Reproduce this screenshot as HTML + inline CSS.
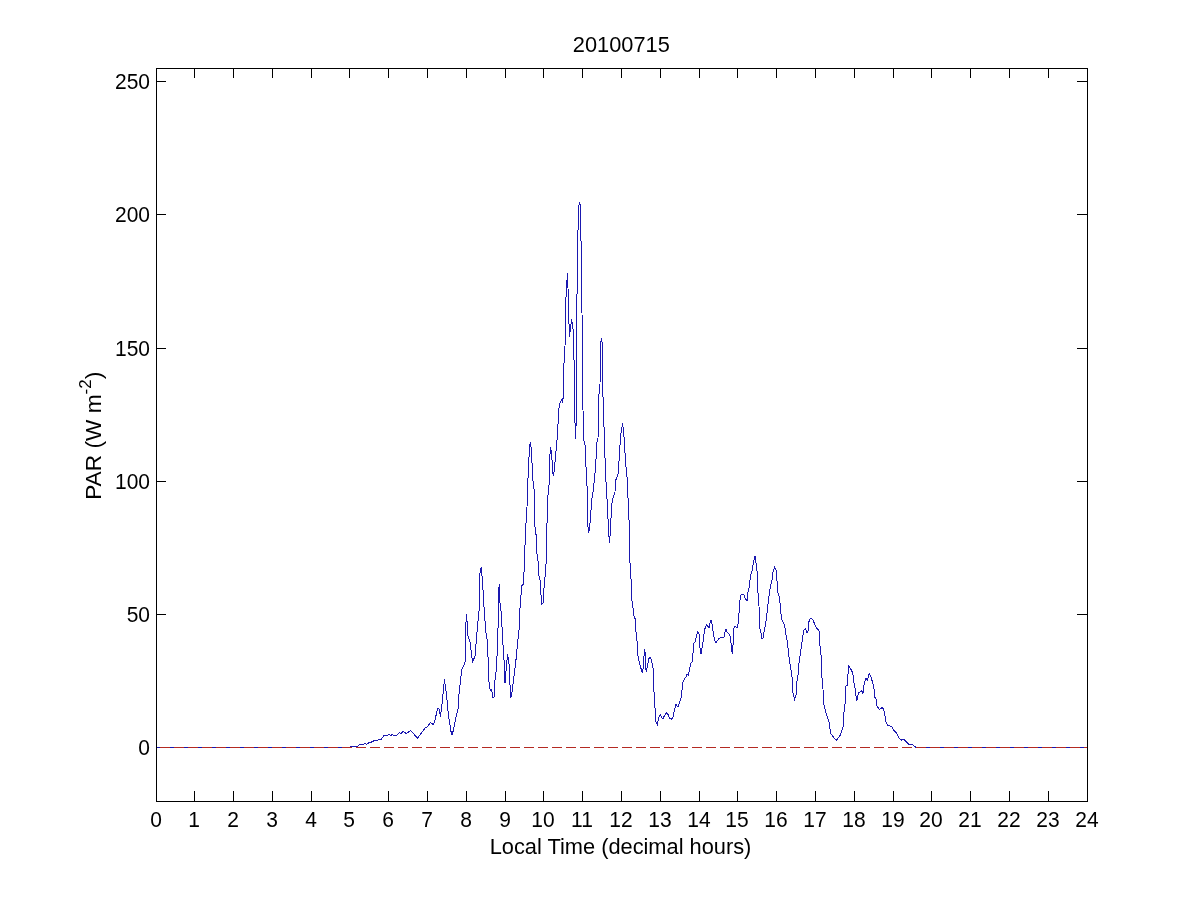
<!DOCTYPE html><html><head><meta charset="utf-8"><style>html,body{margin:0;padding:0;background:#fff;}svg{display:block;will-change:transform;}text{font-family:"Liberation Sans",sans-serif;fill:#000;}</style></head><body>
<svg width="1201" height="900" viewBox="0 0 1201 900">
<rect x="0" y="0" width="1201" height="900" fill="#fff"/>
<g stroke="#000" stroke-width="1" shape-rendering="crispEdges" fill="none"><rect x="156.5" y="68.5" width="931" height="733" fill="none"/><path d="M156.5 802 V791 M156.5 68 V78"/><path d="M194.5 802 V791 M194.5 68 V78"/><path d="M233.5 802 V791 M233.5 68 V78"/><path d="M272.5 802 V791 M272.5 68 V78"/><path d="M311.5 802 V791 M311.5 68 V78"/><path d="M349.5 802 V791 M349.5 68 V78"/><path d="M388.5 802 V791 M388.5 68 V78"/><path d="M427.5 802 V791 M427.5 68 V78"/><path d="M466.5 802 V791 M466.5 68 V78"/><path d="M505.5 802 V791 M505.5 68 V78"/><path d="M543.5 802 V791 M543.5 68 V78"/><path d="M582.5 802 V791 M582.5 68 V78"/><path d="M621.5 802 V791 M621.5 68 V78"/><path d="M660.5 802 V791 M660.5 68 V78"/><path d="M699.5 802 V791 M699.5 68 V78"/><path d="M737.5 802 V791 M737.5 68 V78"/><path d="M776.5 802 V791 M776.5 68 V78"/><path d="M815.5 802 V791 M815.5 68 V78"/><path d="M854.5 802 V791 M854.5 68 V78"/><path d="M893.5 802 V791 M893.5 68 V78"/><path d="M931.5 802 V791 M931.5 68 V78"/><path d="M970.5 802 V791 M970.5 68 V78"/><path d="M1009.5 802 V791 M1009.5 68 V78"/><path d="M1048.5 802 V791 M1048.5 68 V78"/><path d="M1087.5 802 V791 M1087.5 68 V78"/><path d="M156 747.5 H166 M1088 747.5 H1077"/><path d="M156 614.5 H166 M1088 614.5 H1077"/><path d="M156 481.5 H166 M1088 481.5 H1077"/><path d="M156 348.5 H166 M1088 348.5 H1077"/><path d="M156 214.5 H166 M1088 214.5 H1077"/><path d="M156 81.5 H166 M1088 81.5 H1077"/></g>
<path d="M156.5 747.5 L350 747.5 L351 746.2 L356 746.5 L357.5 746.8 L359.5 744.5 L363.5 744.3 L365 743.5 L366.5 744.5 L369 742.5 L371.5 742.0 L374.5 740.5 L378.5 740.0 L381 739.5 L384 735.5 L388 735.0 L389 734.5 L390.5 735.5 L392.5 734.5 L394 735.5 L396.5 735.5 L399.5 732.5 L401 733.5 L403 731.5 L406.5 733.5 L410.5 730.5 L417.5 738.0 L421.5 733.0 L425 728.0 L427 727.0 L430.5 722.5 L433 724.5 L434.5 722.0 L437.5 709.0 L439 708.5 L440.5 716.5 L442 704.0 L443 694.0 L444.5 679.5 L446.5 695.0 L448.5 716.0 L451.5 734.5 L452.5 734.0 L456 717.0 L458 709.0 L459.2 691.7 L461.7 670.0 L464.2 664.2 L465.3 661.7 L465.5 635.0 L466.3 614.2 L467.2 623.3 L467.5 634.0 L470 641.7 L472.5 662.5 L475 655.8 L477.5 626.7 L479.2 609.2 L480 573.3 L481.2 566.7 L482.5 581.7 L484.2 610.0 L485.8 631.7 L487.5 641.7 L488.3 665.0 L489.2 686.7 L490.8 690.8 L491.7 690.0 L493 697.5 L494.2 696.7 L495 680.0 L496.7 666.7 L497.5 640.0 L498.3 621.7 L498.7 588.3 L499.5 584.2 L500 603.3 L501.3 613.3 L502.5 636.7 L504.2 663.3 L505 683.3 L505.8 673.3 L507.5 654.2 L509.2 665.0 L510.5 697.5 L511.7 695.0 L513.3 681.7 L515.8 661.7 L517.5 643.3 L519.2 628.3 L520 608.3 L521.7 585.8 L523.3 584.2 L524.7 560.8 L525.3 530.0 L526.7 515.8 L527.5 491.7 L528.3 470.0 L529.7 445.0 L530.5 441.7 L531.7 453.3 L532.5 476.7 L534.2 490.0 L534.7 525.0 L536.3 536.7 L537.3 560.7 L538.3 561.0 L538.7 574.7 L539.7 579.7 L540.7 580.3 L541 595.0 L541.7 595.7 L542 604.3 L543.3 602.7 L543.7 588.0 L544.7 587.7 L545 577.0 L545.7 576.3 L546.7 538.3 L547.5 500.0 L549.2 483.3 L549.7 456.7 L550.8 447.5 L552 460.0 L552.5 471.7 L553.7 475.8 L555 461.7 L556.7 443.3 L557.5 435.0 L558.7 410.0 L560 403.3 L561.3 400.0 L562.5 401.7 L563.3 396.7 L563.7 368.3 L565 346.7 L565.5 309.0 L566.5 286.5 L567.5 273.0 L568 288.0 L568.5 311.0 L569.5 337.0 L570.5 328.0 L571.5 319.5 L572.5 325.0 L573.5 333.0 L574.7 395.0 L575 423.3 L575 439.2 L576.2 423.3 L576.5 322.0 L577.5 267.0 L578.3 210.0 L579.5 201.7 L580.5 206.7 L581.2 252.5 L582 313.0 L583.3 438.3 L585 445.0 L586.3 473.3 L587.5 495.0 L588 526.7 L588.8 533.3 L590 523.3 L590.8 513.3 L591.7 500.0 L593.3 490.0 L594.7 476.7 L595.8 463.3 L596.7 443.3 L598 438.3 L598.3 411.7 L599.2 390.0 L600 385.0 L600.3 346.7 L601.3 338.3 L602.5 345.0 L603 396.7 L604.2 431.7 L605.3 466.7 L606.3 488.3 L607.5 506.7 L608.3 526.7 L609.5 543.3 L610.5 528.3 L611.7 505.0 L613.3 496.7 L615 491.7 L615.8 480.0 L617 476.7 L618.3 473.3 L619.2 458.3 L620 445.0 L620.8 435.0 L622.5 423.3 L623.7 431.7 L624.7 448.3 L625.8 465.0 L627.5 481.7 L628.3 506.7 L629.2 523.3 L629.3 560.0 L629.7 562.7 L630.7 563.3 L630.7 578.7 L631.3 579.3 L631.7 600.7 L632.3 601.3 L632.7 608.0 L633.7 608.7 L634 616.0 L635.3 619.3 L635.6 629.0 L636.9 638.0 L637.6 653.3 L639.5 663.5 L642.4 673.1 L643.7 663.5 L644.3 649.5 L645.2 653.3 L645.9 669.9 L646.5 671.2 L647.8 663.5 L649 658.4 L650.6 657.1 L652.2 663.5 L653.5 670.0 L653.9 690.4 L654.8 704.4 L655.7 721.0 L657.4 724.8 L658 721.0 L659.3 715.3 L660.5 714.6 L661.8 717.8 L663.1 718.4 L664.6 715.3 L666.3 712.7 L668.2 714.6 L669.5 718.4 L671.4 719.1 L672.7 718.4 L674 712.1 L675.9 704.4 L677.8 707.0 L679.4 703.1 L681.6 696.7 L682 690.0 L683 682.0 L684.5 679.0 L686 677.0 L687 674.0 L688.5 675.0 L689.5 670.0 L690.5 664.0 L692 662.0 L693 653.0 L693.5 644.0 L695 642.0 L696 638.0 L697.8 631.5 L699 634.0 L700 648.0 L701 654.0 L703 642.0 L704.5 630.0 L706.5 624.5 L709 628.0 L710.5 621.0 L711.5 620.5 L712.5 628.0 L714.5 640.0 L716 643.0 L718.5 639.0 L721 637.0 L724 637.0 L725 632.0 L726 629.0 L727 632.0 L729.5 634.5 L730.5 637.0 L731.5 648.0 L732.2 654.0 L733 645.0 L733.5 629.0 L735 626.0 L737 628.0 L738.5 622.0 L739.5 604.0 L740.5 596.0 L742 594.0 L744 595.0 L745.5 599.0 L747 601.0 L748 592.0 L749.5 586.0 L750.5 575.0 L752 571.0 L753 565.0 L754 560.0 L755 556.0 L756 563.0 L757 571.0 L758 593.0 L759 606.0 L759.5 627.0 L760.5 631.0 L761.5 635.0 L762 639.0 L763 638.0 L764 632.0 L765.5 625.0 L766.5 618.0 L767.5 608.0 L769 596.0 L770.5 586.0 L772 580.0 L773 572.0 L774.5 567.0 L776 570.0 L777 581.0 L778 593.0 L779.5 598.0 L780.5 608.0 L781.5 619.0 L783 622.0 L784.5 625.0 L786 635.0 L787.5 643.0 L789 657.0 L790.5 667.0 L792 677.0 L793 693.0 L794.5 699.5 L796 695.0 L796.5 684.0 L798 675.0 L799 663.0 L800.5 653.0 L801.5 645.0 L803 635.0 L804 630.0 L805.5 629.0 L807 633.0 L808.5 630.0 L808.5 623.0 L809.5 620.0 L811 618.0 L813 620.0 L815 625.0 L816.5 628.0 L818.5 630.0 L819.5 632.0 L820 646.0 L821 655.0 L822 678.0 L823 689.0 L823.4 703.2 L826.1 713.0 L829.2 722.8 L830.6 733.4 L836.3 740.6 L840.3 735.2 L843.4 726.3 L843.9 713.4 L845.2 702.3 L845.7 686.3 L847.4 685.4 L848.3 669.4 L848.8 665.9 L850.6 668.6 L852.8 673.0 L853.7 682.8 L854.6 684.1 L856.3 698.8 L856.8 701.4 L858.6 692.6 L860.3 691.7 L861.7 690.8 L863 693.4 L864.3 682.8 L866.1 678.3 L867.4 680.1 L869.2 673.4 L871 676.6 L872.6 682.8 L873.9 687.3 L874.8 697.3 L876.2 699.2 L876.7 705.6 L879.4 709.2 L882.6 707.4 L884.4 711.9 L885.8 722.0 L887.6 725.2 L891.7 726.5 L894.4 731.1 L896.3 732.9 L899.4 738.4 L901.7 740.2 L903.6 739.3 L905.4 741.1 L908.6 744.3 L912.7 744.8 L916.3 747.5 L1087 747.5" fill="none" stroke="#1a18b0" stroke-width="1" shape-rendering="crispEdges"/>
<path d="M156 747.5 L1087 747.5" stroke="#b42a22" stroke-width="1" stroke-dasharray="10 4" stroke-dashoffset="10" shape-rendering="crispEdges" fill="none"/>
<g font-size="22"><text transform="translate(156.00 827.00) scale(1 1.090)" text-anchor="middle" font-size="21.00">0</text><text transform="translate(194.00 827.00) scale(1 1.090)" text-anchor="middle" font-size="21.00">1</text><text transform="translate(233.00 827.00) scale(1 1.090)" text-anchor="middle" font-size="21.00">2</text><text transform="translate(272.00 827.00) scale(1 1.090)" text-anchor="middle" font-size="21.00">3</text><text transform="translate(311.00 827.00) scale(1 1.090)" text-anchor="middle" font-size="21.00">4</text><text transform="translate(349.00 827.00) scale(1 1.090)" text-anchor="middle" font-size="21.00">5</text><text transform="translate(388.00 827.00) scale(1 1.090)" text-anchor="middle" font-size="21.00">6</text><text transform="translate(427.00 827.00) scale(1 1.090)" text-anchor="middle" font-size="21.00">7</text><text transform="translate(466.00 827.00) scale(1 1.090)" text-anchor="middle" font-size="21.00">8</text><text transform="translate(505.00 827.00) scale(1 1.090)" text-anchor="middle" font-size="21.00">9</text><text transform="translate(543.00 827.00) scale(1 1.090)" text-anchor="middle" font-size="21.00">10</text><text transform="translate(582.00 827.00) scale(1 1.090)" text-anchor="middle" font-size="21.00">11</text><text transform="translate(621.00 827.00) scale(1 1.090)" text-anchor="middle" font-size="21.00">12</text><text transform="translate(660.00 827.00) scale(1 1.090)" text-anchor="middle" font-size="21.00">13</text><text transform="translate(699.00 827.00) scale(1 1.090)" text-anchor="middle" font-size="21.00">14</text><text transform="translate(737.00 827.00) scale(1 1.090)" text-anchor="middle" font-size="21.00">15</text><text transform="translate(776.00 827.00) scale(1 1.090)" text-anchor="middle" font-size="21.00">16</text><text transform="translate(815.00 827.00) scale(1 1.090)" text-anchor="middle" font-size="21.00">17</text><text transform="translate(854.00 827.00) scale(1 1.090)" text-anchor="middle" font-size="21.00">18</text><text transform="translate(893.00 827.00) scale(1 1.090)" text-anchor="middle" font-size="21.00">19</text><text transform="translate(931.00 827.00) scale(1 1.090)" text-anchor="middle" font-size="21.00">20</text><text transform="translate(970.00 827.00) scale(1 1.090)" text-anchor="middle" font-size="21.00">21</text><text transform="translate(1009.00 827.00) scale(1 1.090)" text-anchor="middle" font-size="21.00">22</text><text transform="translate(1048.00 827.00) scale(1 1.090)" text-anchor="middle" font-size="21.00">23</text><text transform="translate(1087.00 827.00) scale(1 1.090)" text-anchor="middle" font-size="21.00">24</text><text transform="translate(150.00 755.00) scale(1 1.090)" text-anchor="end" font-size="21.00">0</text><text transform="translate(150.00 622.00) scale(1 1.090)" text-anchor="end" font-size="21.00">50</text><text transform="translate(150.00 489.00) scale(1 1.090)" text-anchor="end" font-size="21.00">100</text><text transform="translate(150.00 356.00) scale(1 1.090)" text-anchor="end" font-size="21.00">150</text><text transform="translate(150.00 222.00) scale(1 1.090)" text-anchor="end" font-size="21.00">200</text><text transform="translate(150.00 89.00) scale(1 1.090)" text-anchor="end" font-size="21.00">250</text><text transform="translate(621.30 52.00) scale(1 1.030)" text-anchor="middle" font-size="21.80">20100715</text><text transform="translate(620.50 854.00) scale(1 1.000)" text-anchor="middle" font-size="21.80">Local Time (decimal hours)</text><text transform="translate(101.1 435.8) rotate(-90)" text-anchor="middle" font-size="22.7">PAR (W m<tspan dy="-10.5" font-size="17">-2</tspan><tspan dy="10.5">)</tspan></text></g>
</svg></body></html>
